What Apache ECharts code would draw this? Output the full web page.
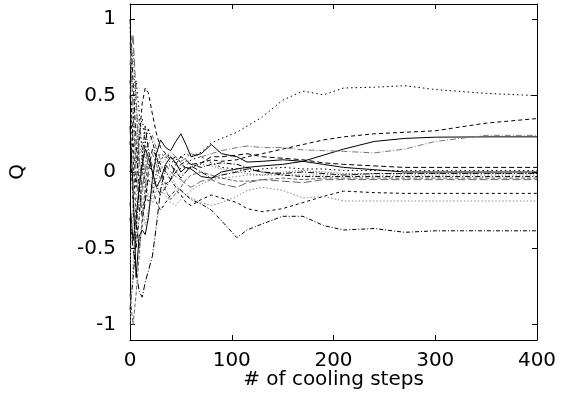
<!DOCTYPE html>
<html>
<head>
<meta charset="utf-8">
<script src="https://cdn.jsdelivr.net/npm/echarts@6/dist/echarts.min.js"></script>
<style>html,body{margin:0;padding:0;background:#fff;}#chart{width:561px;height:393px;}</style>
</head>
<body>
<div id="chart"></div>
<script>
// x values (# of cooling steps), shared by every run
const steps = [0,3,6,9,12,15,18,22,26,30,35,40,45,50,55,60,70,80,90,105,115,130,150,170,190,210,240,270,300,350,400];

// Q values for each run
const runA = [0.95,0.4,0.05,0.25,0.35,0.2,0.05,0.0,0.08,0.12,0.1,0.06,0.08,0.1,0.12,0.1,0.13,0.19,0.22,0.26,0.3,0.36,0.47,0.53,0.505,0.55,0.555,0.565,0.54,0.515,0.5];
const runB = [0.6,0.2,-0.1,0.2,0.45,0.55,0.52,0.38,0.25,0.16,0.12,0.08,0.1,0.06,0.02,0.03,0.06,0.08,0.07,0.08,0.1,0.12,0.15,0.18,0.21,0.23,0.25,0.26,0.27,0.32,0.35];
const runC = [-0.2,-0.45,-0.3,-0.1,0.05,0.15,0.1,0.0,-0.1,-0.05,0.05,0.1,0.06,0.0,0.03,0.02,-0.03,-0.04,0.0,0.02,0.03,0.04,0.05,0.07,0.11,0.15,0.2,0.22,0.228,0.23,0.23];
const runD = [0.85,0.4,0.0,-0.25,-0.15,0.05,0.18,0.24,0.15,0.08,0.1,0.13,0.1,0.07,0.09,0.12,0.1,0.12,0.14,0.16,0.17,0.16,0.16,0.145,0.14,0.135,0.125,0.15,0.2,0.24,0.24];
const runE = [0.3,-0.1,-0.69,-0.42,-0.38,-0.41,-0.3,-0.05,0.12,0.21,0.16,0.14,0.2,0.25,0.18,0.1,0.12,0.18,0.12,0.1,0.065,0.07,0.08,0.07,0.05,0.03,0.015,0.0,0.0,0.0,0.0];
const runF = [-0.3,-0.5,-0.65,-0.78,-0.82,-0.72,-0.65,-0.55,-0.35,-0.12,0.03,0.05,0.0,-0.04,0.0,0.04,0.0,-0.04,-0.02,0.0,0.02,0.0,-0.01,0.0,-0.01,-0.02,-0.01,-0.01,-0.01,-0.01,-0.01];
const runG = [1.0,0.6,0.2,-0.1,-0.3,-0.2,0.0,0.15,0.1,0.0,-0.08,-0.05,0.05,0.1,0.08,0.05,0.06,0.1,0.1,0.11,0.12,0.1,0.09,0.08,0.06,0.05,0.04,0.03,0.03,0.03,0.03];
const runH = [-0.6,-0.2,0.2,0.35,0.15,-0.05,-0.15,-0.2,-0.12,-0.05,0.0,-0.02,-0.08,-0.12,-0.15,-0.12,-0.08,-0.05,-0.04,-0.03,-0.02,-0.02,-0.02,-0.02,-0.02,-0.02,-0.02,-0.02,-0.02,-0.02,-0.02];
const runI = [-0.9,-0.7,-0.4,-0.1,0.1,0.3,0.15,0.0,-0.1,-0.15,-0.1,-0.05,0.0,0.05,0.07,0.05,0.03,0.05,0.06,0.05,0.03,0.0,-0.02,-0.03,-0.03,-0.03,-0.03,-0.03,-0.03,-0.03,-0.03];
const runJ = [0.5,0.1,-0.3,-0.5,-0.35,-0.15,-0.05,-0.1,-0.2,-0.25,-0.2,-0.15,-0.12,-0.15,-0.2,-0.22,-0.18,-0.15,-0.17,-0.2,-0.24,-0.26,-0.24,-0.2,-0.16,-0.125,-0.135,-0.14,-0.14,-0.14,-0.14];
const runK = [-1.0,-0.6,-0.2,0.1,0.2,0.1,0.0,-0.05,-0.1,-0.12,-0.15,-0.2,-0.22,-0.18,-0.15,-0.17,-0.2,-0.22,-0.2,-0.16,-0.12,-0.1,-0.12,-0.17,-0.16,-0.19,-0.19,-0.19,-0.19,-0.19,-0.19];
const runL = [0.2,-0.2,-0.5,-0.3,0.0,0.2,0.28,0.2,0.1,0.05,0.0,-0.05,-0.1,-0.12,-0.15,-0.18,-0.21,-0.25,-0.32,-0.43,-0.38,-0.34,-0.29,-0.29,-0.35,-0.38,-0.37,-0.395,-0.385,-0.385,-0.385];
const runM = [0.7,0.9,0.5,0.1,-0.1,0.0,0.1,0.05,0.0,0.02,0.05,0.0,-0.03,-0.05,-0.08,-0.1,-0.06,-0.05,-0.08,-0.1,-0.07,-0.05,-0.06,-0.07,-0.05,-0.05,-0.05,-0.05,-0.05,-0.05,-0.05];
const runN = [0.0,0.3,0.6,0.4,0.1,-0.1,-0.2,-0.12,0.0,0.08,0.12,0.1,0.05,0.02,0.04,0.08,0.1,0.06,0.03,0.02,0.0,0.02,0.03,0.02,0.02,0.01,0.01,0.01,0.01,0.01,0.01];
const runO = [-0.8,-1.0,-0.8,-0.55,-0.3,-0.1,0.1,0.12,0.05,-0.05,-0.12,-0.18,-0.14,-0.1,-0.05,-0.02,0.0,-0.02,-0.04,-0.06,-0.06,-0.05,-0.04,-0.05,-0.04,-0.04,-0.04,-0.04,-0.04,-0.04,-0.04];
const runP = [0.5,0.8,0.4,0.0,-0.2,-0.35,-0.25,-0.15,-0.05,0.05,0.08,0.04,0.0,-0.02,0.0,0.03,0.05,0.04,0.02,0.0,-0.01,-0.02,0.0,0.01,0.0,-0.01,-0.01,-0.01,-0.01,-0.01,-0.01];

// tick labels
const xTicks = [0, 100, 200, 300, 400];
const yTicks = [-1, -0.5, 0, 0.5, 1];

const runs = [runA, runB, runC, runD, runE, runF, runG, runH, runI, runJ, runK, runL, runM, runN, runO, runP];
const styles = [
  {c:'#000', t:[1.5,3]},
  {c:'#000', t:[4,3]},
  {c:'#000', t:'solid'},
  {c:'#777', t:[6,2,1,2]},
  {c:'#000', t:'solid'},
  {c:'#000', t:[6,2,1,2]},
  {c:'#000', t:[5,3]},
  {c:'#888', t:[1.5,2]},
  {c:'#000', t:[5,2,1,2]},
  {c:'#000', t:[3,3]},
  {c:'#888', t:[1.5,2]},
  {c:'#000', t:[4,2,1,2]},
  {c:'#666', t:[8,3]},
  {c:'#000', t:[1.5,3]},
  {c:'#666', t:[4,2]},
  {c:'#555', t:[1,2]}
];

const series = runs.map((r, i) => ({
  type: 'line',
  data: steps.map((s, j) => [s, r[j]]),
  symbol: 'none',
  smooth: false,
  lineStyle: { color: styles[i].c, width: 1, type: styles[i].t },
  xAxisIndex: 0, yAxisIndex: 0,
  silent: true
}));

const font = 'DejaVu Sans';
const chart = echarts.init(document.getElementById('chart'), null, {renderer: 'canvas'});
chart.setOption({
  animation: false,
  backgroundColor: '#fff',
  grid: { left: 130, right: 24, top: 4, bottom: 53, containLabel: false, outerBoundsMode: 'none' },
  xAxis: [
    {
      type: 'value', min: 0, max: 400, interval: 100, position: 'bottom',
      name: '# of cooling steps', nameLocation: 'middle', nameGap: 30, nameMoveOverlap: false,
      nameTextStyle: { fontFamily: font, fontSize: 20, color: '#000' },
      axisLine: { show: true, onZero: false, lineStyle: { color: '#000', width: 1 } },
      axisTick: { show: true, inside: true, length: 5, lineStyle: { color: '#000' } },
      axisLabel: { show: true, margin: 11, fontFamily: font, fontSize: 20, color: '#000', customValues: xTicks },
      splitLine: { show: false }
    },
    {
      type: 'value', min: 0, max: 400, interval: 100, position: 'top',
      axisLine: { show: true, onZero: false, lineStyle: { color: '#000', width: 1 } },
      axisTick: { show: true, inside: true, length: 5, lineStyle: { color: '#000' } },
      axisLabel: { show: false },
      splitLine: { show: false }
    }
  ],
  yAxis: [
    {
      type: 'value', min: -1.1, max: 1.1, position: 'left',
      name: 'Q', nameLocation: 'middle', nameGap: 102, nameRotate: 90, nameMoveOverlap: false,
      nameTextStyle: { fontFamily: font, fontSize: 20, color: '#000' },
      axisLine: { show: true, onZero: false, lineStyle: { color: '#000', width: 1 } },
      axisTick: { show: true, inside: true, length: 5, lineStyle: { color: '#000' }, customValues: yTicks },
      axisLabel: { show: true, margin: 14, fontFamily: font, fontSize: 20, color: '#000', customValues: yTicks },
      splitLine: { show: false }
    },
    {
      type: 'value', min: -1.1, max: 1.1, position: 'right',
      axisLine: { show: true, onZero: false, lineStyle: { color: '#000', width: 1 } },
      axisTick: { show: true, inside: true, length: 5, lineStyle: { color: '#000' }, customValues: yTicks },
      axisLabel: { show: false },
      splitLine: { show: false }
    }
  ],
  series: series
});
</script>
</body>
</html>
